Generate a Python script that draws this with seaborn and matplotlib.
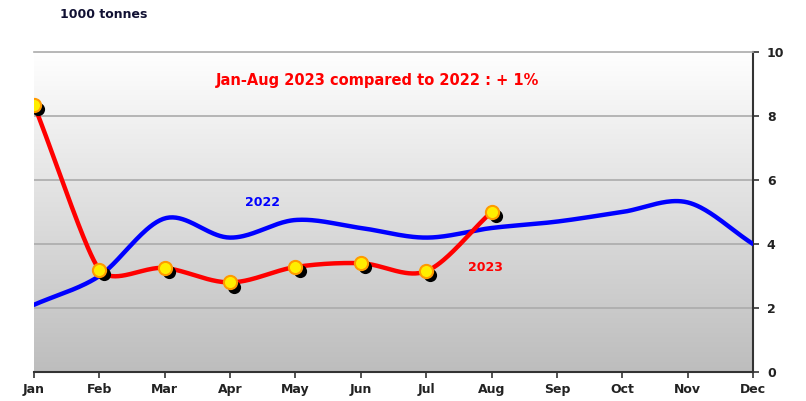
import numpy as np
import pandas as pd
import matplotlib
matplotlib.use("Agg")
import matplotlib.pyplot as plt
import matplotlib.transforms as mtransforms
import seaborn as sns

months = ["Jan", "Feb", "Mar", "Apr", "May", "Jun", "Jul", "Aug", "Sep", "Oct", "Nov", "Dec"]
values_2022 = [2.1, 3.0, 4.8, 4.2, 4.75, 4.5, 4.2, 4.5, 4.7, 5.0, 5.3, 4.0]
values_2023 = [8.35, 3.2, 3.25, 2.8, 3.28, 3.4, 3.15, 5.0]
y_ticks = [0, 2, 4, 6, 8, 10]
headline = "Jan-Aug 2023 compared to 2022 : + 1%"
unit_label = "1000 tonnes"

# screen scale (px per month step, px per unit) used to shape the smoothed curves
SX, SY = 65.4, 32.0


def smooth(y, k=0.33, n=40):
    """Bezier smoothing: tangent along the neighbour chord, handle set by the shorter chord."""
    y = np.asarray(y, dtype=float)
    pts = np.column_stack([np.arange(len(y)) * SX, y * SY])
    m = len(pts)
    chords = np.linalg.norm(np.diff(pts, axis=0), axis=1)
    dirs, hl = [], []
    for i in range(m):
        a = pts[max(i - 1, 0)]
        b = pts[min(i + 1, m - 1)]
        d = b - a
        dirs.append(d / np.linalg.norm(d))
        near = [chords[j] for j in (i - 1, i) if 0 <= j < m - 1]
        hl.append(k * min(near))
    t = np.linspace(0, 1, n, endpoint=False)[:, None]
    segs = []
    for i in range(m - 1):
        p0, p3 = pts[i], pts[i + 1]
        p1 = p0 + dirs[i] * hl[i]
        p2 = p3 - dirs[i + 1] * hl[i + 1]
        seg = ((1 - t) ** 3) * p0 + 3 * ((1 - t) ** 2) * t * p1 + 3 * (1 - t) * t ** 2 * p2 + t ** 3 * p3
        segs.append(seg)
    segs.append(pts[-1:])
    curve = np.vstack(segs)
    return curve[:, 0] / SX, curve[:, 1] / SY


sns.set_theme(style="white")
plt.rcParams["font.family"] = ["DejaVu Sans"]

fig = plt.figure(figsize=(8.06, 4.01), dpi=100)
ax = fig.add_axes([34 / 806, 1 - 372 / 401, (753 - 34) / 806, (372 - 52) / 401])

# vertical grey gradient behind the plot: white at top, grey at bottom
grad = np.linspace(0, 1, 256).reshape(-1, 1)
cmap = matplotlib.colors.LinearSegmentedColormap.from_list("bg", ["#ffffff", "#bdbdbd"])
ax.imshow(grad, extent=[0, 11, 0, 10], origin="upper", aspect="auto", cmap=cmap, zorder=0)

for v in y_ticks[1:-1]:
    ax.axhline(v, color="#ababab", lw=1.2, zorder=1)

x22, y22 = smooth(values_2022)
curve22 = pd.DataFrame({"x": x22, "y": y22})
sns.lineplot(data=curve22, x="x", y="y", ax=ax, color="#0000ff", lw=3.2, sort=False, zorder=3)

x23, y23 = smooth(values_2023)
curve23 = pd.DataFrame({"x": x23, "y": y23})
sns.lineplot(data=curve23, x="x", y="y", ax=ax, color="#ff0000", lw=3.2, sort=False, zorder=4)

pts = pd.DataFrame({"x": np.arange(len(values_2023)), "y": values_2023})
shadow = mtransforms.offset_copy(ax.transData, fig=fig, x=3, y=-3, units="points")
ax.scatter(pts["x"], pts["y"], s=90, color="black", transform=shadow, zorder=5, linewidths=0)
sns.scatterplot(data=pts, x="x", y="y", ax=ax, s=90, color="#ffee00",
                edgecolor="#ff9a00", linewidth=1.5, zorder=6, legend=False)

ax.set_xlim(0, 11)
ax.set_ylim(0, 10)
ax.set_xticks(range(len(months)))
ax.set_xticklabels(months)
ax.set_yticks(y_ticks)
ax.yaxis.tick_right()
ax.set_xlabel("")
ax.set_ylabel("")
ax.tick_params(axis="x", direction="out", length=4, width=1.2, color="#333333",
               labelsize=9, pad=4, bottom=True)
ax.tick_params(axis="y", direction="out", length=4, width=1.2, color="#333333",
               labelsize=9, pad=6, right=True, left=False)
for lab in ax.get_xticklabels() + ax.get_yticklabels():
    lab.set_fontweight("bold")
    lab.set_color("#222222")

ax.spines["left"].set_visible(False)
ax.spines["top"].set_color("#ababab")
ax.spines["top"].set_linewidth(1.2)
for side in ["bottom", "right"]:
    ax.spines[side].set_color("#333333")
    ax.spines[side].set_linewidth(1.5)

ax.text(5.25, 9.1, headline, color="#ff0000", fontsize=10.5, fontweight="bold",
        ha="center", va="center")
ax.text(3.5, 5.3, "2022", color="#0000ff", fontsize=9, fontweight="bold",
        ha="center", va="center")
ax.text(6.9, 3.25, "2023", color="#ff0000", fontsize=9, fontweight="bold",
        ha="center", va="center")
fig.text(60 / 806, 1 - 14 / 401, unit_label, fontsize=9, fontweight="bold",
         color="#111133", ha="left", va="center")

fig.savefig("out.png", dpi=100, facecolor="white")
